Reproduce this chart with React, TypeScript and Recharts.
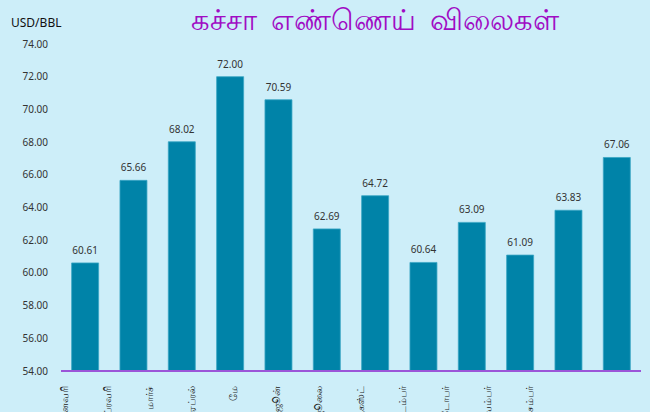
import { Bar, BarChart, LabelList, XAxis, YAxis } from "recharts"

const months = [
  "ஜனவரி",
  "பிப்ரவரி",
  "மார்ச்",
  "ஏப்ரல்",
  "மே",
  "ஜூன்",
  "ஜூலை",
  "ஆகஸ்ட்",
  "செப்டம்பர்",
  "அக்டோபர்",
  "நவம்பர்",
  "டிசம்பர்",
]

const prices = [60.61, 65.66, 68.02, 72.0, 70.59, 62.69, 64.72, 60.64, 63.09, 61.09, 63.83, 67.06]

const yTicks = [54, 56, 58, 60, 62, 64, 66, 68, 70, 72, 74]

const data = months.map((month, i) => ({ month, price: prices[i] }))

const BG = "#cdeef9"
const BAR = "#0083a8"
const FONT = "'Noto Sans', 'Open Sans', sans-serif"

// the month labels in the original sit on a tighter spacing than the bars
const MonthTick = (props: any) => {
  const { x, y, payload } = props
  const tx = 65 + (x - 85.2) * (42.2 / 48.3)
  const ty = y + 7
  return (
    <text
      x={tx}
      y={ty}
      transform={`rotate(-90, ${tx}, ${ty})`}
      textAnchor="end"
      dominantBaseline="central"
      fontSize={9.5}
      fill="#222"
      fontFamily={FONT}
    >
      {payload.value}
    </text>
  )
}

export default function App() {
  return (
    <div
      style={{
        position: "absolute",
        top: 0,
        left: 0,
        width: 650,
        height: 412,
        background: BG,
        overflow: "hidden",
      }}
    >
      <div
        style={{
          position: "absolute",
          top: 1,
          left: 75,
          width: 600,
          textAlign: "center",
          fontSize: 29,
          color: "#a00cc4",
          fontFamily: FONT,
          lineHeight: "36px",
          wordSpacing: 6,
          whiteSpace: "nowrap",
        }}
      >
        கச்சா எண்ணெய் விலைகள்
      </div>
      <div
        style={{
          position: "absolute",
          top: 14,
          left: 11,
          fontSize: 12,
          color: "#111",
          fontFamily: FONT,
        }}
      >
        USD/BBL
      </div>
      <BarChart
        width={650}
        height={412}
        data={data}
        margin={{ top: 44, right: 9, bottom: 0, left: 0 }}
        barCategoryGap="22%"
        style={{ position: "absolute", top: 0, left: 0 }}
      >
        <YAxis
          domain={[54, 74]}
          ticks={yTicks}
          width={61}
          axisLine={false}
          tickLine={false}
          tickMargin={7}
          tickFormatter={(v: number) => v.toFixed(2)}
          tick={{ fontSize: 10, fill: "#333", fontFamily: FONT }}
          allowDataOverflow
        />
        <XAxis
          dataKey="month"
          height={41}
          interval={0}
          tickLine={false}
          axisLine={{ stroke: "#9b55d8", strokeWidth: 2 }}
          tick={<MonthTick />}
        />
        <Bar dataKey="price" fill={BAR} stroke="#3aa6c4" strokeWidth={0.8} isAnimationActive={false}>
          <LabelList
            dataKey="price"
            position="top"
            offset={9}
            formatter={(v: any) => Number(v).toFixed(2)}
            style={{ fontSize: 10, fill: "#333", fontFamily: FONT }}
          />
        </Bar>
      </BarChart>
    </div>
  )
}
